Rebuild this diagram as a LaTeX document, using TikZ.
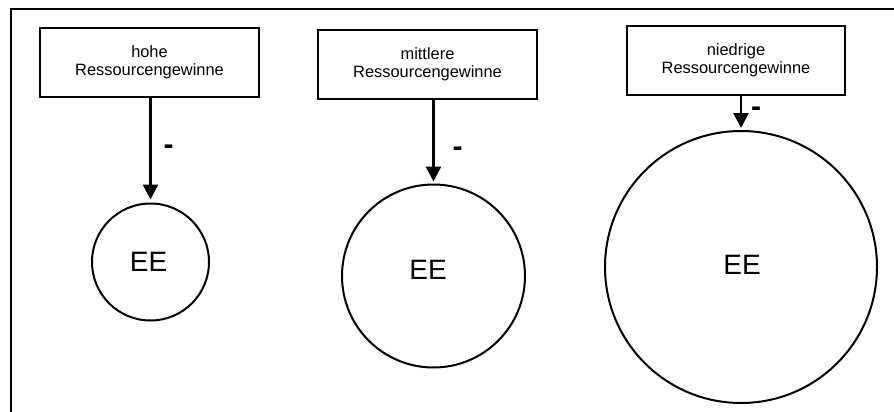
\documentclass[tikz,border=0pt]{standalone}
\usepackage{fontspec}
\setmainfont{Liberation Sans}
\usetikzlibrary{arrows.meta}
\begin{document}
\begin{tikzpicture}[x=1pt,y=-1pt,
  gainbox/.style={draw,line width=2pt,minimum width=219pt,minimum height=69pt,
    inner sep=0pt,align=center,font=\fontsize{16.4}{18.5}\selectfont},
  eecircle/.style={draw,circle,line width=2pt,inner sep=0pt},
  eetext/.style={inner sep=0pt,font=\fontsize{28}{30}\selectfont},
  minuslabel/.style={anchor=base,inner sep=0pt,font=\fontsize{30}{32}\selectfont\bfseries},
  effect/.style={line width=2.5pt,-{Triangle[width=15pt,length=15pt]}}]
  \useasboundingbox (0,0) rectangle (894,412);

  % frame along the top and left edge
  \coordinate (frameTL) at (10.5,9.5);
  \coordinate (frameTR) at (894,9.5);
  \coordinate (frameBL) at (10.5,412);
  \draw[line width=2pt] (frameBL) -- (frameTL) -- (frameTR);

  % resource gain boxes
  \node[gainbox] (hoch)    at (149.5,62.5) {hohe\\Ressourcengewinne};
  \node[gainbox] (mittel)  at (427.5,64.5) {mittlere\\Ressourcengewinne};
  \node[gainbox,minimum width=218pt] (niedrig) at (736,60.5) {niedrige\\Ressourcengewinne};

  % EE circles
  \node[eecircle,minimum size=117pt] (ee1) at (150.5,262) {};
  \node[eecircle,minimum size=183pt] (ee2) at (433.5,276) {};
  \node[eecircle,minimum size=272pt] (ee3) at (741,267) {};
  \node[eetext] (ee1t) at ([shift={(-2,0)}]ee1.center) {EE};
  \node[eetext] (ee2t) at ([shift={(-5.5,-6)}]ee2.center) {EE};
  \node[eetext] (ee3t) at ([shift={(1,-2)}]ee3.center) {EE};

  % negative effects
  \draw[effect,shorten >=3pt] (ee1.north |- hoch.south) -- (ee1.north);
  \draw[effect,shorten >=2pt] (ee2.north |- mittel.south) -- (ee2.north);
  \draw[effect,shorten >=2pt] (ee3.north |- niedrig.south) -- (ee3.north);

  \node[minuslabel] (m1) at (168.5,154.4) {-};
  \node[minuslabel] (m2) at (457.5,156) {-};
  \node[minuslabel] (m3) at (756,116.7) {-};
\end{tikzpicture}
\end{document}
